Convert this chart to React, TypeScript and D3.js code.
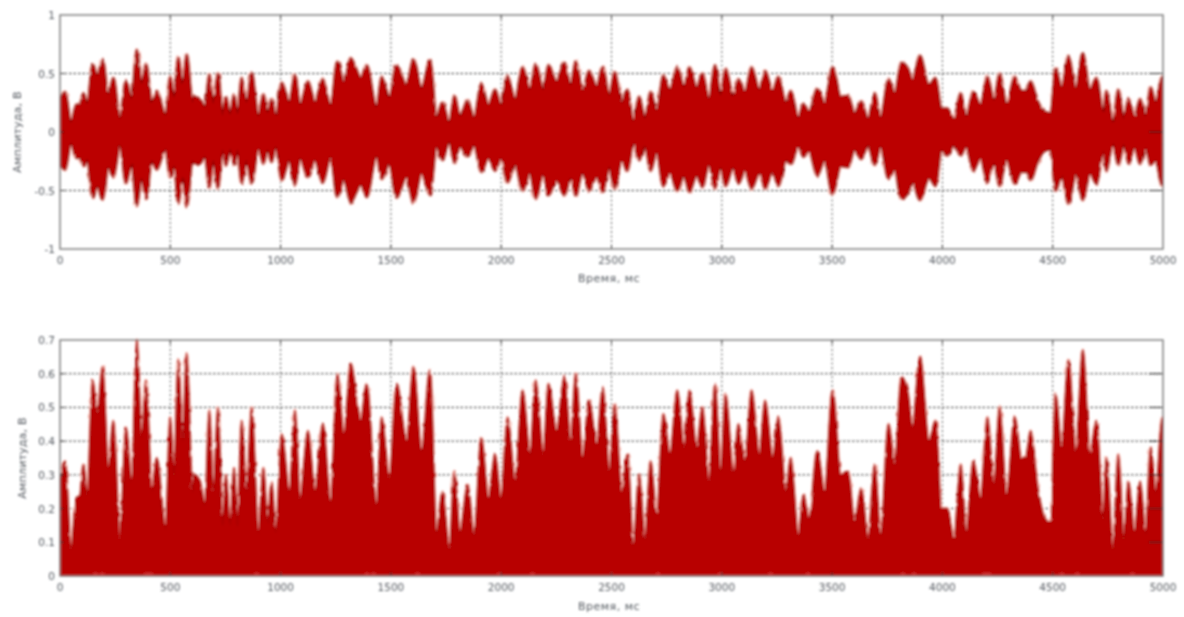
import React from "react";
import * as d3 from "d3";

const times = [
  0,23,50,73,91,106,124,148,169,193,
  219,242,272,299,325,348,370,390,416,438,
  479,499,517,536,556,574,601,607,635,657,
  677,695,716,737,752,771,789,805,823,846,
  869,899,922,941,959,978,1005,1040,1065,1088,
  1124,1156,1191,1227,1257,1287,1318,1342,1363,1390,
  1435,1458,1493,1526,1571,1602,1639,1677,1707,1733,
  1765,1788,1813,1848,1877,1910,1942,1972,1999,2029,
  2063,2097,2131,2156,2191,2214,2251,2286,2315,2338,
  2369,2398,2433,2460,2490,2514,2546,2572,2599,2625,
  2652,2677,2705,2735,2765,2798,2829,2853,2886,2912,
  2942,2969,2995,3017,3052,3075,3105,3135,3170,3196,
  3231,3256,3291,3312,3347,3370,3395,3433,3466,3502,
  3539,3572,3602,3632,3663,3693,3720,3756,3784,3814,
  3844,3864,3898,3939,3969,3995,4022,4052,4083,4108,
  4140,4173,4204,4234,4259,4291,4328,4358,4377,4400,
  4430,4465,4491,4513,4541,4571,4605,4636,4669,4698,
  4729,4743,4773,4797,4823,4843,4871,4896,4921,4944,
  4967,4997,5000,
];
const upperAmp = [
  .27,.34,.08,.23,.24,.33,.24,.58,.48,.62,
  .32,.46,.11,.44,.28,.70,.41,.58,.25,.35,
  .14,.47,.30,.64,.40,.66,.25,.30,.28,.21,
  .49,.25,.50,.15,.30,.15,.32,.15,.46,.25,
  .50,.13,.32,.16,.28,.13,.42,.25,.49,.23,
  .43,.25,.45,.22,.60,.42,.63,.54,.46,.57,
  .21,.47,.29,.57,.40,.62,.37,.61,.13,.25,
  .08,.31,.13,.27,.12,.41,.23,.36,.23,.47,
  .28,.55,.36,.58,.36,.57,.43,.59,.40,.60,
  .35,.52,.39,.56,.31,.51,.25,.36,.09,.30,
  .11,.34,.18,.48,.36,.55,.38,.55,.38,.50,
  .28,.57,.31,.54,.31,.45,.34,.55,.36,.52,
  .35,.47,.25,.35,.12,.24,.17,.37,.25,.55,
  .30,.31,.16,.26,.11,.33,.12,.45,.33,.59,
  .54,.44,.65,.40,.46,.20,.20,.11,.33,.13,
  .34,.23,.47,.27,.50,.24,.47,.35,.35,.43,
  .27,.17,.16,.54,.38,.64,.37,.67,.36,.46,
  .17,.35,.08,.36,.11,.28,.13,.28,.13,.38,
  .25,.47,.47,
];
const lowerAmp = [
  .27,.32,.09,.22,.22,.29,.23,.56,.46,.575,
  .30,.385,.11,.435,.27,.63,.39,.57,.24,.32,
  .14,.385,.28,.61,.38,.64,.24,.27,.27,.20,
  .47,.24,.48,.15,.285,.15,.285,.15,.435,.24,
  .44,.13,.27,.15,.255,.12,.41,.24,.45,.22,
  .385,.24,.43,.21,.555,.40,.60,.52,.44,.555,
  .20,.40,.27,.56,.38,.60,.35,.53,.12,.24,
  .08,.26,.12,.21,.11,.34,.22,.33,.22,.43,
  .27,.50,.35,.57,.35,.54,.41,.54,.39,.54,
  .34,.50,.38,.51,.30,.48,.24,.33,.09,.24,
  .11,.33,.17,.46,.35,.50,.37,.51,.37,.47,
  .27,.48,.30,.46,.30,.44,.33,.48,.35,.48,
  .34,.46,.24,.28,.12,.21,.16,.37,.24,.53,
  .29,.30,.15,.23,.11,.28,.12,.40,.32,.57,
  .52,.43,.58,.39,.46,.15,.20,.11,.20,.12,
  .33,.22,.43,.26,.46,.23,.44,.34,.34,.41,
  .26,.16,.15,.50,.37,.61,.36,.58,.35,.44,
  .16,.33,.09,.28,.11,.26,.13,.27,.13,.28,
  .24,.46,.46,
];
const xTicks = [0, 500, 1000, 1500, 2000, 2500, 3000, 3500, 4000, 4500, 5000];
const topYTicks = [-1, -0.5, 0, 0.5, 1];
const bottomYTicks = [0, 0.1, 0.2, 0.3, 0.4, 0.5, 0.6, 0.7];
const xTitle = "Время, мс";
const yTitle = "Амплитуда, В";
// short near-zero dropouts seen along the baseline of the rectified signal
const baselineGaps = [150, 180, 380, 400, 880, 1380, 1410, 1610, 1980, 2130, 2700, 2980, 3210, 3380, 3810, 3860, 4180, 4200, 4530, 4600, 4850];

const W = 1184, H = 617;
const left = 60, right = 1163;
const x = d3.scaleLinear().domain([0, 5000]).range([left, right]);
const yTop = d3.scaleLinear().domain([-1, 1]).range([249, 15]);
const yBottom = d3.scaleLinear().domain([0, 0.7]).range([576, 340]);

const tickColor = "#555a60";
const fontFamily = "'DejaVu Sans', sans-serif";

function Frame({ y, yTicks, xTitleY, titleX, tickY }: any) {
  const [bottom, top] = y.range();
  return (
    <g>
      {xTicks.slice(1, -1).map((t) => (
        <line key={t} x1={x(t)} x2={x(t)} y1={top} y2={bottom} stroke="#555" strokeWidth={1} strokeDasharray="2 2.5" />
      ))}
      {yTicks.slice(1, -1).map((t: number) => (
        <line key={t} x1={left} x2={right} y1={y(t)} y2={y(t)} stroke="#333" strokeWidth={1} strokeDasharray="2.5 2" />
      ))}
      <g fontFamily={fontFamily} fontSize={10.5} fill={tickColor}>
        {xTicks.map((t) => (
          <text key={t} x={x(t)} y={tickY} textAnchor="middle">{t}</text>
        ))}
        {yTicks.map((t: number) => (
          <text key={t} x={55} y={y(t) + 4} textAnchor="end">{String(t)}</text>
        ))}
        <text x={609} y={xTitleY} textAnchor="middle" fontSize={11} letterSpacing={0.5}>{xTitle}</text>
        <text transform={`translate(${titleX},${(top + bottom) / 2}) rotate(-90)`} textAnchor="middle" fontSize={11} letterSpacing={0.2}>{yTitle}</text>
      </g>
    </g>
  );
}

function Border({ y, yTicks }: any) {
  const [bottom, top] = y.range();
  return (
    <g>
      {xTicks.slice(1, -1).map((t) => (
        <g key={t} stroke="#333" strokeWidth={1}>
          <line x1={x(t)} x2={x(t)} y1={bottom} y2={bottom - 4} />
          <line x1={x(t)} x2={x(t)} y1={top} y2={top + 4} />
        </g>
      ))}
      {yTicks.slice(1, -1).map((t: number) => (
        <g key={t} stroke="#222" strokeWidth={1}>
          <line x1={right} x2={right - 14} y1={y(t)} y2={y(t)} />
          <line x1={left} x2={left + 4} y1={y(t)} y2={y(t)} />
        </g>
      ))}
      <rect x={left} y={top} width={right - left} height={bottom - top} fill="none" stroke="#777" strokeWidth={1.4} />
    </g>
  );
}

export default function App() {
  const pts = times.map((t, i) => ({ t, up: upperAmp[i], low: lowerAmp[i] }));
  const topArea = d3.area<any>().curve(d3.curveMonotoneX).x((d) => x(d.t)).y0((d) => yTop(-d.low)).y1((d) => yTop(d.up));
  const bottomArea = d3.area<any>().curve(d3.curveMonotoneX).x((d) => x(d.t)).y0(yBottom(0)).y1((d) => yBottom(d.up));
  return (
    <svg width={W} height={H} style={{ position: "absolute", left: 0, top: 0, background: "#fff" }}>
      <defs>
        <filter id="soft" x="-2%" y="-2%" width="104%" height="104%">
          <feGaussianBlur stdDeviation={0.85} />
        </filter>
        {/* edge grain of the scanned oscillogram; the envelope itself comes from the data */}
        <filter id="grain" x="0" y="0" width="100%" height="100%" filterUnits="userSpaceOnUse" primitiveUnits="userSpaceOnUse">
          <feTurbulence type="fractalNoise" baseFrequency="0.3 0.1" numOctaves={1} seed={4} result="n" />
          <feDisplacementMap in="SourceGraphic" in2="n" scale={3} xChannelSelector="R" yChannelSelector="G" />
        </filter>
        <clipPath id="clipTop"><rect x={left} y={0} width={right - left} height={300} /></clipPath>
        <clipPath id="clipBottom"><rect x={left} y={330} width={right - left} height={246} /></clipPath>
      </defs>
      <g filter="url(#soft)">
        <Frame y={yTop} yTicks={topYTicks} xTitleY={282} titleX={21} tickY={264} />
        <g clipPath="url(#clipTop)">
          <g filter="url(#grain)">
            <path d={topArea(pts) ?? ""} fill="none" stroke="#f6b4aa" strokeWidth={4.2} strokeLinejoin="round" />
            <path d={topArea(pts) ?? ""} fill="#bb0000" stroke="#8c0505" strokeWidth={2.2} strokeLinejoin="round" />
            <path d={topArea(pts) ?? ""} fill="#bb0000" />
          </g>
        </g>
        <Border y={yTop} yTicks={topYTicks} />

        <Frame y={yBottom} yTicks={bottomYTicks} xTitleY={610} titleX={26} tickY={591} />
        <g clipPath="url(#clipBottom)">
          <g filter="url(#grain)">
            <path d={bottomArea(pts) ?? ""} fill="none" stroke="#f6b4aa" strokeWidth={3.4} strokeLinejoin="round" />
            <path d={bottomArea(pts) ?? ""} fill="#b80000" stroke="#a80404" strokeWidth={1.6} strokeLinejoin="round" />
          </g>
          <rect x={left} y={yBottom(0.03)} width={right - left} height={yBottom(0) - yBottom(0.03)} fill="#b80000" />
        </g>
        {baselineGaps.map((t) => (
          <line key={t} x1={x(t)} x2={x(t) + 5} y1={yBottom(0.006)} y2={yBottom(0.006)} stroke="#e86060" strokeWidth={1} />
        ))}
        <Border y={yBottom} yTicks={bottomYTicks} />
      </g>
    </svg>
  );
}
